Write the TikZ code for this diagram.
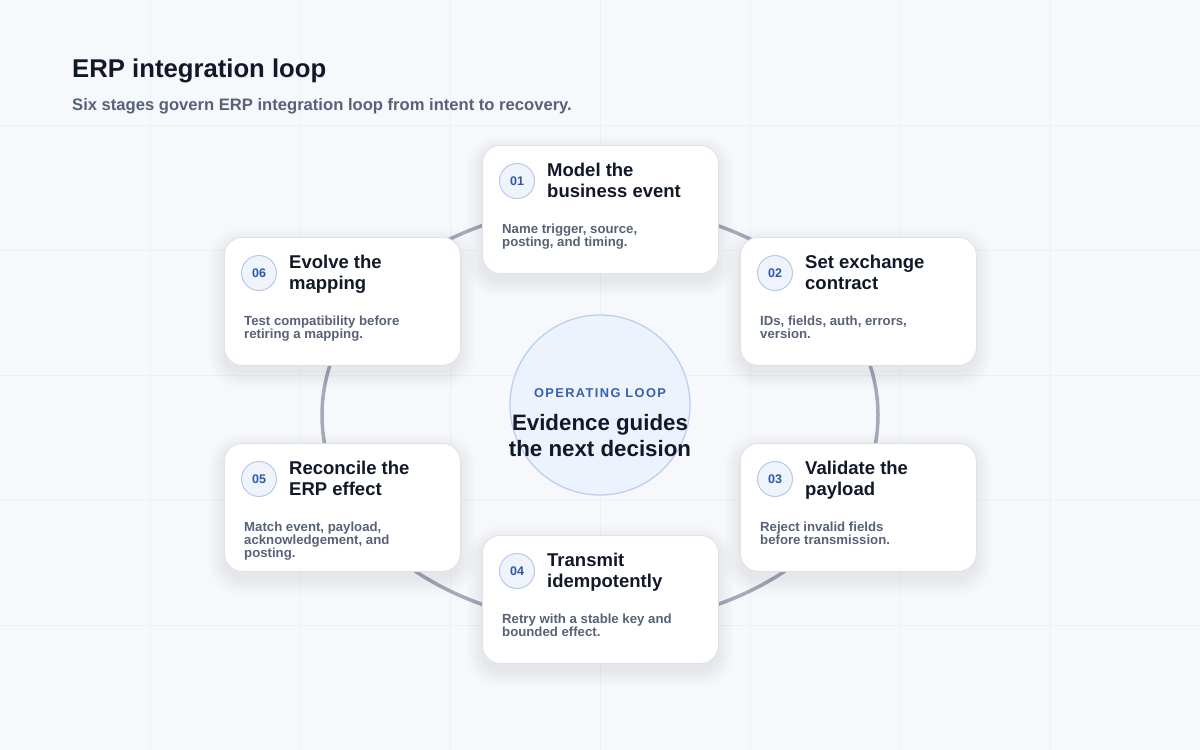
\documentclass[tikz,border=0pt]{standalone}
\usepackage{fontspec}
\setmainfont{Liberation Sans}
\usetikzlibrary{calc}
\definecolor{bgc}{HTML}{F6F8FC}
\definecolor{gridc}{HTML}{EDF0F5}
\definecolor{ringc}{HTML}{A4AAB7}
\definecolor{cardline}{HTML}{DDE2EA}
\definecolor{titlec}{HTML}{111827}
\definecolor{bodyc}{HTML}{586276}
\definecolor{numc}{HTML}{2D58A6}
\definecolor{numfill}{HTML}{EEF3FC}
\definecolor{numline}{HTML}{BACAE6}
\definecolor{hubfill}{HTML}{EDF3FD}
\definecolor{hubline}{HTML}{BCCFEE}
\definecolor{hubtag}{HTML}{3560B0}
\definecolor{shadowc}{HTML}{1E293B}
\tikzset{
  cardbox/.style={rectangle, anchor=north west, draw=cardline, line width=0.8pt, fill=white,
    rounded corners=18pt, minimum width=236pt, minimum height=128pt, inner sep=0pt},
  numbadge/.style={circle, draw=numline, fill=numfill, line width=1pt, minimum size=35pt, inner sep=0pt,
    text=numc, font=\fontsize{12.5}{12.5}\selectfont\bfseries},
  cardtitle/.style={anchor=base west, align=left, inner sep=0pt, text=titlec,
    font=\fontsize{18.5}{21}\selectfont\bfseries},
  cardbody/.style={anchor=base west, align=left, inner sep=0pt, text=bodyc,
    font=\fontsize{13.2}{13}\selectfont\bfseries}
}
% #1 name, #2 x, #3 y, #4 number, #5 title, #6 body, #7 baseline offset of last body line
\newcommand\stagecard[7]{%
  \foreach \s [evaluate=\s as \rr using 18+\s] in {0,...,16}
    \fill[shadowc, opacity=0.0045, rounded corners=\rr pt] (#2-\s,#3+6-\s) rectangle (#2+236+\s,#3+128+8+\s);
  \node[cardbox] (#1) at (#2,#3) {};
  \node[numbadge] (#1n) at ($(#1.north west)+(35,36)$) {#4};
  \node[cardtitle] (#1t) at ($(#1.north west)+(65,52)$) {#5};
  \node[cardbody] (#1b) at ($(#1.north west)+(20,#7)$) {#6};
}
\begin{document}
\begin{tikzpicture}[x=1pt,y=-1pt]
\useasboundingbox (0,0) rectangle (1200,750);
\fill[bgc] (0,0) rectangle (1200,750);
\foreach \gx in {150,300,...,1050} \draw[gridc, line width=1pt] (\gx,0) -- (\gx,750);
\foreach \gy in {125,250,...,625} \draw[gridc, line width=1pt] (0,\gy) -- (1200,\gy);
% title
\node[anchor=base west, inner sep=0pt, text=titlec, font=\fontsize{25.7}{30}\selectfont\bfseries] (title) at (72,77) {ERP integration loop};
\node[anchor=base west, inner sep=0pt, text=bodyc, font=\fontsize{16.6}{18}\selectfont\bfseries] (subtitle) at (72,110.5) {Six stages govern ERP integration loop from intent to recovery.};
% loop ring
\coordinate (ringc) at (600,415);
\draw[ringc, line width=3.5pt] (ringc) ellipse [x radius=278, y radius=209];
% hub
\node[circle, draw=hubline, fill=hubfill, line width=1.3pt, minimum size=180pt, inner sep=0pt] (hub) at (600,405) {};
\node[anchor=base, inner sep=0pt, text=hubtag, font=\fontsize{12.8}{14}\selectfont\bfseries\addfontfeatures{LetterSpace=11}] (hubtag) at (600,397) {OPERATING LOOP};
\node[anchor=base, align=center, inner sep=0pt, text=titlec, font=\fontsize{22.3}{26}\selectfont\bfseries] (hubtext) at (600,456.7) {Evidence guides\\the next decision};
% cards
\stagecard{c1}{482}{145}{01}{Model the\\business event}{Name trigger, source,\\posting, and timing.}{101}
\stagecard{c2}{740}{237}{02}{Set exchange\\contract}{IDs, fields, auth, errors,\\version.}{101}
\stagecard{c3}{740}{443}{03}{Validate the\\payload}{Reject invalid fields\\before transmission.}{101}
\stagecard{c4}{482}{535}{04}{Transmit\\idempotently}{Retry with a stable key and\\bounded effect.}{101}
\stagecard{c5}{224}{443}{05}{Reconcile the\\ERP effect}{Match event, payload,\\acknowledgement, and\\posting.}{114}
\stagecard{c6}{224}{237}{06}{Evolve the\\mapping}{Test compatibility before\\retiring a mapping.}{101}
\end{tikzpicture}
\end{document}
